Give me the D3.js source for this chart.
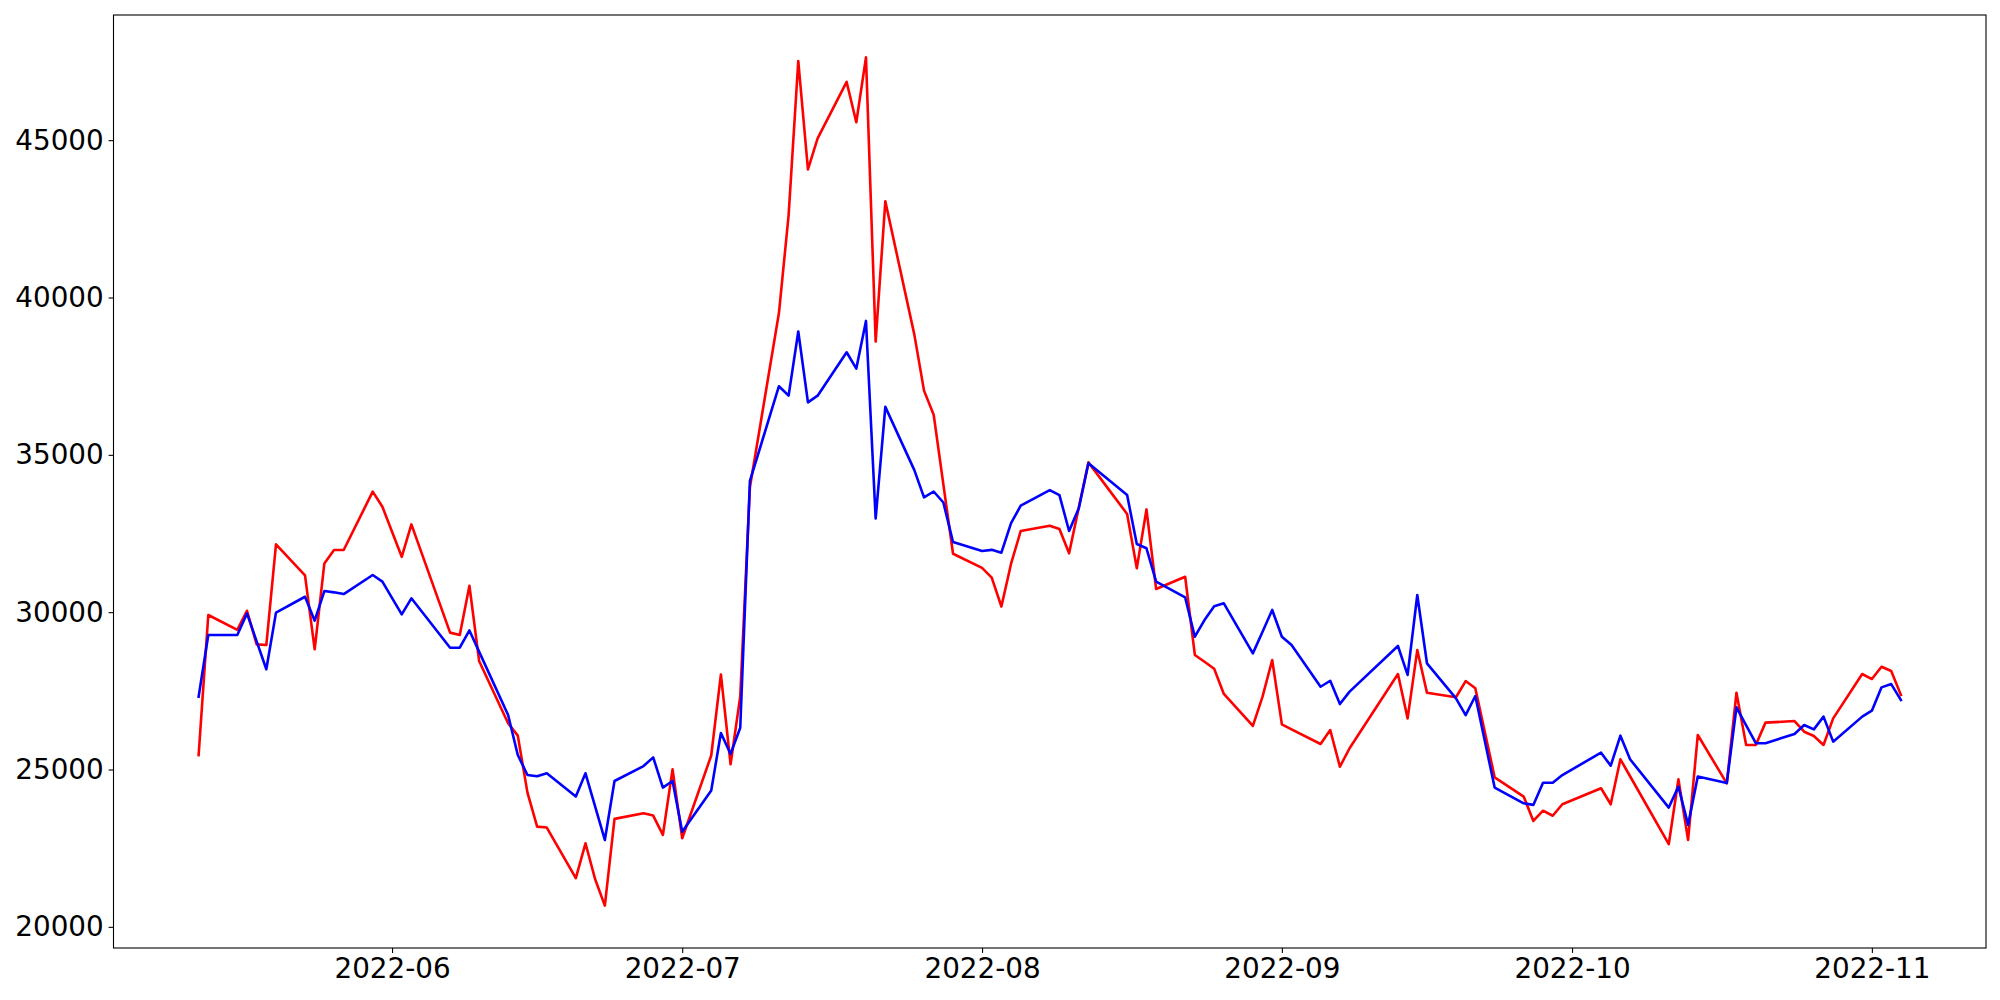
<!DOCTYPE html>
<html>
<head>
<meta charset="utf-8">
<script src="https://cdn.jsdelivr.net/npm/d3@7"></script>
<style>
  html, body { margin: 0; padding: 0; background: #ffffff; }
  svg { display: block; }
  text { font-family: "DejaVu Sans", sans-serif; }
</style>
</head>
<body>
<svg id="chart" width="2000" height="1000"></svg>
<script>
const dates = ["2022-05-12","2022-05-13","2022-05-16","2022-05-17","2022-05-18","2022-05-19","2022-05-20",
"2022-05-23","2022-05-24","2022-05-25","2022-05-26","2022-05-27","2022-05-30","2022-05-31","2022-06-02","2022-06-03",
"2022-06-07","2022-06-08","2022-06-09","2022-06-10","2022-06-13","2022-06-14","2022-06-15","2022-06-16","2022-06-17",
"2022-06-20","2022-06-21","2022-06-22","2022-06-23","2022-06-24","2022-06-27","2022-06-28","2022-06-29","2022-06-30",
"2022-07-01","2022-07-04","2022-07-05","2022-07-06","2022-07-07","2022-07-08","2022-07-11","2022-07-12","2022-07-13",
"2022-07-14","2022-07-15","2022-07-18","2022-07-19","2022-07-20","2022-07-21","2022-07-22","2022-07-25","2022-07-26",
"2022-07-27","2022-07-28","2022-07-29","2022-08-01","2022-08-02","2022-08-03","2022-08-04","2022-08-05","2022-08-08",
"2022-08-09","2022-08-10","2022-08-11","2022-08-12","2022-08-16","2022-08-17","2022-08-18","2022-08-19","2022-08-22",
"2022-08-23","2022-08-24","2022-08-25","2022-08-26","2022-08-29","2022-08-30","2022-08-31","2022-09-01","2022-09-02",
"2022-09-05","2022-09-06","2022-09-07","2022-09-08","2022-09-13","2022-09-14","2022-09-15","2022-09-16","2022-09-19",
"2022-09-20","2022-09-21","2022-09-23","2022-09-26","2022-09-27","2022-09-28","2022-09-29","2022-09-30","2022-10-04",
"2022-10-05","2022-10-06","2022-10-07","2022-10-11","2022-10-12","2022-10-13","2022-10-14","2022-10-17","2022-10-18",
"2022-10-19","2022-10-20","2022-10-21","2022-10-24","2022-10-25","2022-10-26","2022-10-27","2022-10-28","2022-10-31",
"2022-11-01","2022-11-02","2022-11-03","2022-11-04"];

const redSeries = [25460,29910,29435,30045,28975,28955,32155,
31170,28820,31550,31975,31975,33830,33350,31760,32790,
29350,29275,30840,28450,26470,26075,24265,23185,23155,
21545,22655,21510,20675,23430,23610,23535,22920,25005,
22815,25445,28020,25165,27325,33970,39505,42610,47515,
44070,45055,46850,45570,47630,38600,43055,38820,37040,
36275,34060,31855,31410,31100,30180,31540,32580,32745,
32640,31870,33320,34760,33120,31395,33265,30735,31125,
28640,28425,28200,27400,26385,27315,28480,26435,26275,
25810,26255,25090,25675,28035,26625,28795,27440,27295,
27810,27580,24750,24140,23365,23690,23530,23895,24405,
23895,25325,24785,22625,24690,22760,26095,24560,27440,
25780,25780,26490,26540,26200,26065,25780,26625,28035,
27875,28265,28130,27370];

const blueSeries = [27315,29275,29275,29960,29070,28185,29985,
30490,29730,30670,30630,30575,31180,30970,29930,30440,
28870,28870,29420,28745,26730,25460,24825,24785,24880,
24140,24880,23820,22760,24635,25110,25385,24425,24635,
23025,24335,26160,25495,26325,34170,37180,36880,38920,
36665,36880,38260,37740,39255,32975,36525,34515,33650,
33835,33485,32230,31945,31980,31890,32830,33385,33880,
33720,32580,33300,34730,33720,32165,32030,30970,30470,
29220,29750,30185,30280,28690,29380,30070,29220,28955,
27630,27820,27080,27475,28925,28005,30545,28375,27260,
26730,27335,24425,23925,23875,24580,24580,24825,25535,
25120,26075,25325,23790,24455,23240,24775,24570,26975,
26405,25835,25835,26130,26415,26275,26680,25885,26680,
26870,27610,27715,27210];

const yTickValues = [20000, 25000, 30000, 35000, 40000, 45000];
const xTickLabels = ["2022-06","2022-07","2022-08","2022-09","2022-10","2022-11"];

const parse = d3.utcParse("%Y-%m-%d");
const parseMonth = d3.utcParse("%Y-%m");
const fmtMonth = d3.utcFormat("%Y-%m");

const rows = dates.map((d, i) => ({ date: parse(d), red: redSeries[i], blue: blueSeries[i] }));

const box = { left: 113.5, top: 15, right: 1986, bottom: 948 };
const svg = d3.select("#chart");
svg.append("rect").attr("width", 2000).attr("height", 1000).attr("fill", "#ffffff");

// matplotlib-like 5% margins
const xExt = d3.extent(rows, d => d.date.getTime());
const xPad = (xExt[1] - xExt[0]) * 0.05;
const x = d3.scaleUtc()
  .domain([new Date(xExt[0] - xPad), new Date(xExt[1] + xPad)])
  .range([box.left, box.right]);

const allVals = redSeries.concat(blueSeries);
const yMin = d3.min(allVals), yMax = d3.max(allVals);
const yPad = (yMax - yMin) * 0.05;
const y = d3.scaleLinear()
  .domain([yMin - yPad, yMax + yPad])
  .range([box.bottom, box.top]);

const fontPx = 27.8;

// Lines
const lineRed = d3.line().x(d => x(d.date)).y(d => y(d.red));
const lineBlue = d3.line().x(d => x(d.date)).y(d => y(d.blue));

const plot = svg.append("g");
plot.append("path").datum(rows).attr("d", lineRed)
  .attr("fill", "none").attr("stroke", "#ff0000").attr("stroke-width", 2.6)
  .attr("stroke-linejoin", "round").attr("stroke-linecap", "square");
plot.append("path").datum(rows).attr("d", lineBlue)
  .attr("fill", "none").attr("stroke", "#0000ff").attr("stroke-width", 2.6)
  .attr("stroke-linejoin", "round").attr("stroke-linecap", "square");

// Axes
const xAxis = d3.axisBottom(x)
  .tickValues(xTickLabels.map(parseMonth))
  .tickFormat(fmtMonth)
  .tickSizeInner(4.9).tickSizeOuter(0).tickPadding(4.9);
const gx = svg.append("g").attr("transform", `translate(0,${box.bottom})`).call(xAxis);
gx.select(".domain").remove();
gx.selectAll(".tick line").attr("stroke", "#000").attr("stroke-width", 1.1);
gx.selectAll(".tick text").attr("fill", "#000").style("font-size", fontPx + "px")
  .style("font-family", "'DejaVu Sans', sans-serif");

const yAxis = d3.axisLeft(y)
  .tickValues(yTickValues)
  .tickFormat(d3.format("d"))
  .tickSizeInner(4.9).tickSizeOuter(0).tickPadding(4.9);
const gy = svg.append("g").attr("transform", `translate(${box.left},0)`).call(yAxis);
gy.select(".domain").remove();
gy.selectAll(".tick line").attr("stroke", "#000").attr("stroke-width", 1.1);
gy.selectAll(".tick text").attr("fill", "#000").style("font-size", fontPx + "px")
  .style("font-family", "'DejaVu Sans', sans-serif");

// Frame (spines)
svg.append("rect")
  .attr("x", box.left).attr("y", box.top)
  .attr("width", box.right - box.left).attr("height", box.bottom - box.top)
  .attr("fill", "none").attr("stroke", "#000").attr("stroke-width", 1.1);
</script>
</body>
</html>
